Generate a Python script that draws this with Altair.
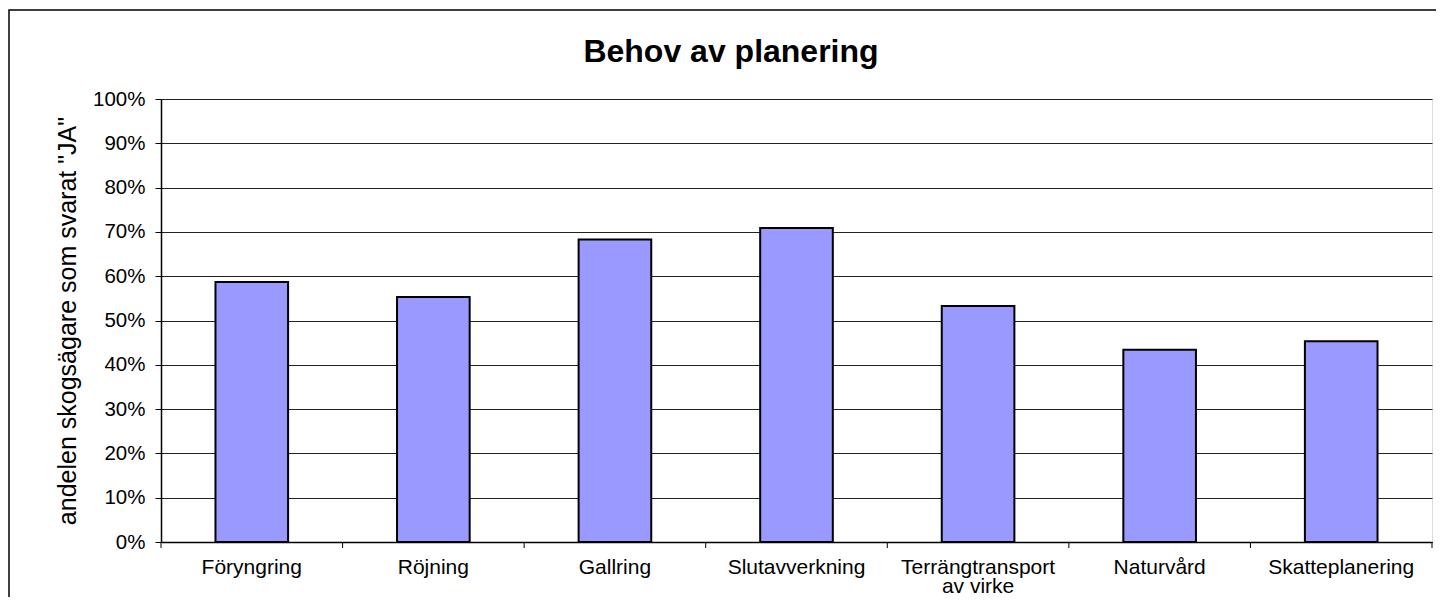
import altair as alt
import pandas as pd

categories = ["Föryngring", "Röjning", "Gallring", "Slutavverkning",
              "Terrängtransport\nav virke", "Naturvård", "Skatteplanering"]
values = [0.587, 0.553, 0.683, 0.709, 0.533, 0.434, 0.453]
y_ticks = [i / 10 for i in range(11)]
chart_title = "Behov av planering"

df = pd.DataFrame({"cat": categories, "val": values})

W, H = 1271, 443
FONT = "Liberation Sans"

xscale = alt.Scale(domain=categories, paddingInner=0.6, paddingOuter=0.3)
yscale = alt.Scale(domain=[0, 1], nice=False)

bars = alt.Chart(df).mark_bar(
    color="#9999FF", stroke="black", strokeWidth=2
).encode(
    x=alt.X("cat:N", scale=xscale, sort=categories,
            axis=alt.Axis(title=None, labelAngle=0, ticks=False,
                          labelExpr="split(datum.label, '\\n')",
                          labelFont=FONT, labelFontSize=21, labelColor="black",
                          labelPadding=14, labelLineHeight=19.5,
                          domainColor="black", domainWidth=1.5)),
    y=alt.Y("val:Q", scale=yscale,
            axis=alt.Axis(title='andelen skogsägare som svarat "JA"', format=".0%",
                          values=y_ticks, grid=True, gridColor="#222222",
                          gridWidth=1, tickColor="black", tickSize=6,
                          labelFont=FONT, labelFontSize=20.5, labelColor="black",
                          labelPadding=10, titleFont=FONT, titleFontSize=25,
                          titleFontWeight="normal", titleColor="black",
                          titlePadding=12, domainColor="black", domainWidth=1.5)),
)

tscale = alt.Scale(domain=categories, paddingInner=0, paddingOuter=0)
xticks = alt.Chart(df).mark_rule(color="black", strokeWidth=1).encode(
    x=alt.X("cat:N", scale=tscale, sort=categories, bandPosition=0, axis=None),
    y=alt.value(H), y2=alt.value(H + 6),
)
xticks_end = alt.Chart(df.tail(1)).mark_rule(color="black", strokeWidth=1).encode(
    x=alt.X("cat:N", scale=tscale, sort=categories, bandPosition=1, axis=None),
    y=alt.value(H), y2=alt.value(H + 6),
)

border = alt.Chart(pd.DataFrame({"a": [0]})).mark_rect(
    fill=None, stroke="black", strokeWidth=1.5
).encode(
    x=alt.value(-152), x2=alt.value(1282), y=alt.value(-89), y2=alt.value(530)
)

title = alt.Chart(pd.DataFrame({"t": [chart_title]})).mark_text(
    font=FONT, fontSize=32, fontWeight="bold", color="black",
    align="center", baseline="alphabetic"
).encode(text="t:N", x=alt.value(570), y=alt.value(-37))

chart = alt.layer(bars, alt.layer(xticks, xticks_end), border, title).resolve_scale(
    x="independent"
).properties(
    width=W, height=H,
    autosize=alt.AutoSizeParams(type="none"),
    padding={"left": 153, "top": 91, "right": 4, "bottom": 55},
).configure_view(stroke="#808080", strokeWidth=2).configure(background="white")

chart.save("out.html", embed_options={"renderer": "svg", "actions": False})
